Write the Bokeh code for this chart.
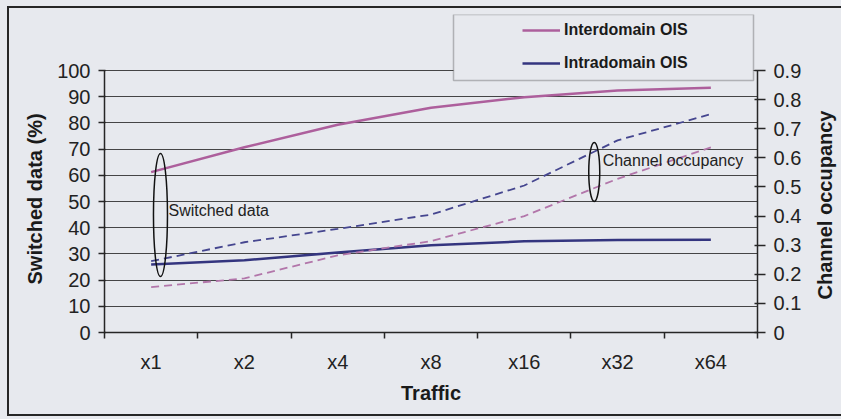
import math
from bokeh.plotting import figure
from bokeh.models import (Range1d, LinearAxis, FixedTicker, Legend, LegendItem,
                          Label, Title, ColumnDataSource, BoxAnnotation)
from bokeh.embed import file_html
from bokeh.resources import INLINE

# ---- data ----
categories = ["x1", "x2", "x4", "x8", "x16", "x32", "x64"]
inter_switched = [61.2, 70.7, 79.3, 85.8, 89.8, 92.4, 93.4]     # Interdomain OIS, switched data (%)
intra_switched = [26.0, 27.6, 30.5, 33.3, 34.8, 35.3, 35.4]     # Intradomain OIS, switched data (%)
inter_occupancy = [0.156, 0.186, 0.265, 0.314, 0.40, 0.528, 0.636]  # Interdomain OIS, channel occupancy
intra_occupancy = [0.245, 0.31, 0.356, 0.405, 0.505, 0.66, 0.75]   # Intradomain OIS, channel occupancy
left_ticks = [0, 10, 20, 30, 40, 50, 60, 70, 80, 90, 100]
right_ticks = [0, 0.1, 0.2, 0.3, 0.4, 0.5, 0.6, 0.7, 0.8, 0.9]
series_names = ["Interdomain OIS", "Intradomain OIS"]

BG = "#e7e9ee"
INK = "#262626"
PINK = "#ad5f9c"
BLUE = "#34357f"
PINK_D = "#b276aa"
BLUE_D = "#45468f"
FONT = "Liberation Sans"
TICK_SIZE = "20px"

# the plot area reaches up to the legend box; axes stop at 100 / 0.9
LEFT_MAX = 100 * 318 / 262
RIGHT_MAX = 0.9 * 318 / 262

xpos = [i + 0.5 for i in range(len(categories))]
src = ColumnDataSource(dict(x=xpos, inter=inter_switched, intra=intra_switched,
                            inter_occ=inter_occupancy, intra_occ=intra_occupancy))

p = figure(width=841, height=419, output_backend="svg", toolbar_location=None,
           x_range=Range1d(0, len(categories)), y_range=Range1d(0, LEFT_MAX),
           min_border_left=104, min_border_right=84, min_border_top=14, min_border_bottom=87)
p.background_fill_color = BG
p.border_fill_color = BG
p.border_fill_alpha = 0
p.outline_line_color = None
p.styles = {
    "background-color": BG,
    "background-image": (f"linear-gradient({INK},{INK}), linear-gradient({INK},{INK}), "
                         f"linear-gradient({INK},{INK})"),
    "background-size": "2px 410px, 840px 2px, 840px 2px",
    "background-position": "7px 6px, 7px 6px, 7px 414px",
    "background-repeat": "no-repeat",
}

p.extra_y_ranges = {"occ": Range1d(0, RIGHT_MAX)}

# grid
p.xgrid.visible = False
p.ygrid.ticker = FixedTicker(ticks=left_ticks)
p.ygrid.grid_line_color = "#333333"
p.ygrid.grid_line_alpha = 0.9
p.ygrid.grid_line_width = 1

# x axis
xa = p.xaxis[0]
xa.ticker = FixedTicker(ticks=xpos, minor_ticks=list(range(len(categories) + 1)))
xa.major_label_overrides = {x: c for x, c in zip(xpos, categories)}
xa.major_tick_in = 0
xa.major_tick_out = 0
xa.minor_tick_in = 0
xa.minor_tick_out = 6
xa.minor_tick_line_color = INK
xa.minor_tick_line_width = 1.5
xa.axis_line_color = INK
xa.axis_line_width = 1.5
xa.major_label_text_font = FONT
xa.major_label_text_font_size = TICK_SIZE
xa.major_label_text_color = "#222222"
xa.major_label_standoff = 12
xa.axis_label = "Traffic"
xa.axis_label_text_font = FONT
xa.axis_label_text_font_style = "bold"
xa.axis_label_text_font_size = "20px"
xa.axis_label_text_color = "#1a1a1a"
xa.axis_label_standoff = 6

# left axis
ya = p.yaxis[0]
ya.ticker = FixedTicker(ticks=left_ticks)
ya.bounds = (0, 100)
ya.minor_tick_line_color = None
ya.major_tick_in = 1
ya.major_tick_out = 6
ya.major_tick_line_color = INK
ya.major_tick_line_width = 1.5
ya.axis_line_color = INK
ya.axis_line_width = 1.5
ya.major_label_text_font = FONT
ya.major_label_text_font_size = TICK_SIZE
ya.major_label_text_color = "#222222"
ya.major_label_standoff = 8

# right axis
ra = LinearAxis(y_range_name="occ", ticker=FixedTicker(ticks=right_ticks), bounds=(0, 0.9))
ra.minor_tick_line_color = None
ra.major_tick_in = 3
ra.major_tick_out = 8
ra.major_tick_line_color = INK
ra.major_tick_line_width = 1.5
ra.axis_line_color = INK
ra.axis_line_width = 1.5
ra.major_label_text_font = FONT
ra.major_label_text_font_size = TICK_SIZE
ra.major_label_text_color = "#222222"
ra.major_label_standoff = 8
p.add_layout(ra, "right")

# axis titles (centred on the 0..100 part of the axes)
p.add_layout(Title(text="Switched data (%)", align="left", offset=48, vertical_align="middle",
                   standoff=15, text_font=FONT, text_font_style="bold",
                   text_font_size="20px", text_color="#1a1a1a"), "left")
p.add_layout(Label(x=824, y=204.5, x_units="canvas", y_units="canvas", angle=math.pi / 2,
                   text="Channel occupancy", text_align="center", text_baseline="middle",
                   text_font=FONT, text_font_style="bold", text_font_size="20px",
                   text_color="#1a1a1a"), "right")

# series
r_inter = p.line("x", "inter", source=src, line_color=PINK, line_width=2.5)
r_intra = p.line("x", "intra", source=src, line_color=BLUE, line_width=2.5)
p.line("x", "inter_occ", source=src, y_range_name="occ", line_color=PINK_D,
       line_width=1.8, line_dash="8 5")
p.line("x", "intra_occ", source=src, y_range_name="occ", line_color=BLUE_D,
       line_width=1.8, line_dash="8 5")

# annotations: ellipses and texts
p.ellipse(x=[0.6], y=[44.85], width=[14], height=[123], width_units="screen",
          height_units="screen", fill_color=None, line_color="#111111", line_width=1.5)
p.ellipse(x=[5.25], y=[61.3], width=[11], height=[59], width_units="screen",
          height_units="screen", fill_color=None, line_color="#111111", line_width=1.5)
p.add_layout(Label(x=0.686, y=46.6, text="Switched data", text_font=FONT,
                   text_font_size="16px", text_baseline="middle", text_color="#222222"))
p.add_layout(Label(x=5.34, y=65.6, text="Channel occupancy", text_font=FONT,
                   text_font_size="16px", text_baseline="middle", text_color="#222222"))

# legend box
p.add_layout(BoxAnnotation(left=453, right=753, top=14, bottom=80,
                           left_units="canvas", right_units="canvas",
                           top_units="canvas", bottom_units="canvas",
                           fill_color=BG, fill_alpha=1.0,
                           line_color="#333333", line_width=1.5, level="overlay"))

legend = Legend(items=[LegendItem(label=series_names[0], renderers=[r_inter]),
                       LegendItem(label=series_names[1], renderers=[r_intra])],
                location=(418, 259), padding=0, margin=0, spacing=13,
                glyph_width=38, glyph_height=20, label_height=20, label_standoff=4,
                border_line_color=None, background_fill_alpha=0,
                label_text_font=FONT, label_text_font_style="bold",
                label_text_font_size="16px", label_text_color="#1a1a1a")
p.add_layout(legend, "center")

open("out.html", "w").write(file_html(p, INLINE))
